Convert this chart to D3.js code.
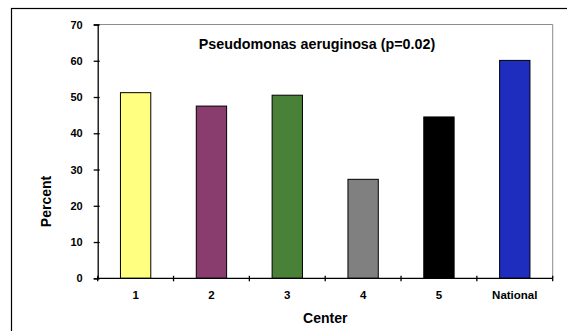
<!DOCTYPE html>
<html>
<head>
<meta charset="utf-8">
<script src="https://cdn.jsdelivr.net/npm/d3@7"></script>
<style>
  html, body { margin: 0; padding: 0; background: #fff; }
  svg { display: block; font-family: "Liberation Sans", Arial, Helvetica, sans-serif; }
</style>
</head>
<body>
<svg id="chart" width="567" height="331"></svg>
<script>
// Share of Pseudomonas aeruginosa isolates by center
const centers = ["1", "2", "3", "4", "5", "National"];
const percents = [51.2, 47.5, 50.5, 27.3, 44.5, 60.1];
const barColors = ["#FFFF80", "#893C6E", "#4A8138", "#808080", "#000000", "#1E2DBE"];
const yTicks = [0, 10, 20, 30, 40, 50, 60, 70];
const chartTitle = "Pseudomonas aeruginosa (p=0.02)";
const xTitle = "Center";
const yTitle = "Percent";

const svg = d3.select("#chart");
const W = 567, H = 331;
const plot = { left: 97.7, right: 552.7, top: 24.5, bottom: 278.3 };

// outer chart frame (continues past the visible edge)
svg.append("rect")
  .attr("x", 11.5).attr("y", 8.5)
  .attr("width", W + 20).attr("height", H + 20)
  .attr("fill", "none").attr("stroke", "#000").attr("stroke-width", 1.2);

const x = d3.scaleBand()
  .domain(centers)
  .range([plot.left, plot.right])
  .paddingInner(0.6)
  .paddingOuter(0.3);

const y = d3.scaleLinear()
  .domain([0, 70])
  .range([plot.bottom, plot.top]);

// plot area border (top and right, grey)
svg.append("path")
  .attr("d", `M${plot.left},${plot.top}H${plot.right}V${plot.bottom}`)
  .attr("fill", "none").attr("stroke", "#8c8c8c").attr("stroke-width", 1);

// bars
svg.append("g").selectAll("rect")
  .data(centers)
  .join("rect")
  .attr("x", d => x(d))
  .attr("y", (d, i) => y(percents[i]))
  .attr("width", x.bandwidth())
  .attr("height", (d, i) => y(0) - y(percents[i]))
  .attr("fill", (d, i) => barColors[i])
  .attr("stroke", "#000")
  .attr("stroke-width", 1);

// y axis
const yAxis = svg.append("g")
  .attr("transform", `translate(${plot.left},0)`)
  .call(d3.axisLeft(y).tickValues(yTicks).tickSize(4).tickPadding(11));
yAxis.select(".domain").attr("stroke", "#000").attr("stroke-width", 1.3);
yAxis.selectAll(".tick line").attr("x1", 2).attr("x2", -4).attr("stroke", "#000").attr("stroke-width", 1.3);
yAxis.selectAll(".tick text")
  .attr("fill", "#000")
  .style("font-size", "11px").style("font-weight", "bold")
  .attr("font-family", null);

// x axis: baseline with ticks at category boundaries
const xAxis = svg.append("g");
xAxis.append("line")
  .attr("x1", plot.left).attr("x2", plot.right)
  .attr("y1", y(0)).attr("y2", y(0))
  .attr("stroke", "#000").attr("stroke-width", 1.3);
const boundaries = d3.range(centers.length + 1).map(i => plot.left + i * x.step());
xAxis.selectAll("line.tick")
  .data(boundaries)
  .join("line")
  .attr("class", "tick")
  .attr("x1", d => d).attr("x2", d => d)
  .attr("y1", y(0) - 2.5).attr("y2", y(0) + 3)
  .attr("stroke", "#000").attr("stroke-width", 1.3);
xAxis.selectAll("text")
  .data(centers)
  .join("text")
  .attr("x", d => x(d) + x.bandwidth() / 2)
  .attr("y", 298.5)
  .attr("text-anchor", "middle")
  .style("font-size", "11.5px").style("font-weight", "bold")
  .text(d => d);

// titles
svg.append("text")
  .attr("x", 317).attr("y", 49)
  .attr("text-anchor", "middle")
  .style("font-size", "14.3px").style("font-weight", "bold")
  .text(chartTitle);

svg.append("text")
  .attr("x", (plot.left + plot.right) / 2).attr("y", 323)
  .attr("text-anchor", "middle")
  .style("font-size", "14px").style("font-weight", "bold")
  .text(xTitle);

svg.append("text")
  .attr("transform", "translate(51,201.5) rotate(-90)")
  .attr("text-anchor", "middle")
  .style("font-size", "14px").style("font-weight", "bold")
  .text(yTitle);
</script>
</body>
</html>
